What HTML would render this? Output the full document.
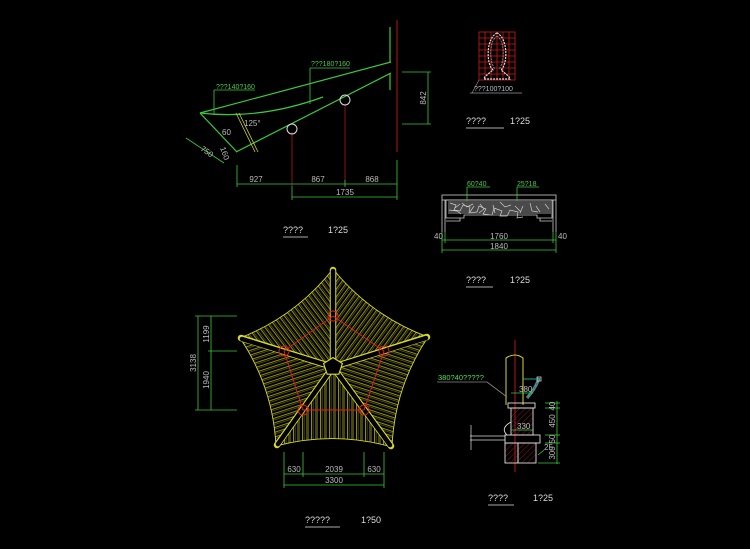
<!DOCTYPE html>
<html><head><meta charset="utf-8"><style>
html,body{margin:0;padding:0;background:#000;}
svg{display:block;}
text{font-family:"Liberation Sans",sans-serif;}
</style></head><body>
<svg width="750" height="549" viewBox="0 0 750 549" xmlns="http://www.w3.org/2000/svg">
<defs>
<pattern id="hp" width="4.5" height="10" patternUnits="userSpaceOnUse"><line x1="1" y1="0" x2="1" y2="10" stroke="#c8c828" stroke-width="0.7"/><line x1="2.6" y1="0" x2="2.6" y2="10" stroke="#8a8a18" stroke-width="0.5"/></pattern>
<pattern id="p1" href="#hp" patternTransform="rotate(-37)"/>
<pattern id="p2" href="#hp" patternTransform="rotate(36)"/>
<pattern id="p3" href="#hp" patternTransform="rotate(108)"/>
<pattern id="p4" href="#hp" patternTransform="rotate(0)"/>
<pattern id="p5" href="#hp" patternTransform="rotate(72)"/>
<pattern id="hatch" width="4" height="4" patternUnits="userSpaceOnUse" patternTransform="rotate(45)"><line x1="0" y1="0" x2="0" y2="4" stroke="#a02020" stroke-width="0.8"/></pattern>
</defs>
<rect width="750" height="549" fill="#000"/>

<!-- ===== Elevation top-left ===== -->
<g fill="none" stroke="#3cc83c" stroke-width="1.2">
<line x1="200" y1="113" x2="391" y2="62"/>
<line x1="236" y1="152" x2="391" y2="73"/>
<line x1="390" y1="27" x2="390" y2="62"/>
<line x1="390" y1="73" x2="390" y2="90"/>
<path d="M200 113 Q260 120 323 97"/>
<line x1="200" y1="113" x2="237" y2="152"/>
</g>
<g stroke="#c8c830" stroke-width="0.8"><line x1="236" y1="113" x2="255" y2="152"/><line x1="239" y1="113" x2="258" y2="152"/></g>
<line x1="397" y1="20" x2="397" y2="152" stroke="#b01818" stroke-width="1"/>
<line x1="292" y1="132" x2="292" y2="186" stroke="#b01818" stroke-width="0.8"/>
<line x1="345" y1="104" x2="345" y2="186" stroke="#b01818" stroke-width="0.8"/>
<circle cx="292" cy="129" r="5" fill="none" stroke="#ddd" stroke-width="1"/>
<circle cx="345" cy="100" r="5" fill="none" stroke="#ddd" stroke-width="1"/>
<g stroke="#3cc83c" stroke-width="0.8" fill="none">
<line x1="237" y1="184" x2="397" y2="184"/><line x1="292" y1="197" x2="397" y2="197"/>
<line x1="237" y1="165" x2="237" y2="187"/><line x1="292" y1="186" x2="292" y2="200"/><line x1="345" y1="180" x2="345" y2="187"/><line x1="397" y1="160" x2="397" y2="200"/>
<line x1="428" y1="72" x2="428" y2="124"/><line x1="402" y1="72" x2="431" y2="72"/><line x1="402" y1="124" x2="431" y2="124"/>
<line x1="186" y1="138" x2="224" y2="163"/><line x1="214" y1="90" x2="214" y2="115"/><line x1="214" y1="90" x2="255" y2="90"/>
<line x1="310" y1="68" x2="310" y2="104"/><line x1="310" y1="68" x2="350" y2="68"/>
</g>
<g font-size="8" fill="#bbb">
<text x="256" y="182" text-anchor="middle">927</text><text x="318" y="182" text-anchor="middle">867</text><text x="372" y="182" text-anchor="middle">868</text>
<text x="345" y="195" text-anchor="middle">1735</text>
<text transform="translate(426,98) rotate(-90)" text-anchor="middle">842</text>
<text transform="translate(200,150) rotate(35)">750</text>
<text transform="translate(220,148) rotate(70)">160</text>
<text x="222" y="135">60</text><text x="244" y="126">125°</text>
</g>
<g font-size="7" fill="#4cc84c"><text x="216" y="89">???140?160</text><text x="311" y="66">???180?160</text></g>
<g font-size="9" fill="#ddd"><text x="283" y="233">????</text><text x="328" y="233">1?25</text><line x1="283" y1="237" x2="308" y2="237" stroke="#aaa"/></g>

<!-- ===== Ball ornament ===== -->
<g stroke="#d01818" stroke-width="0.8">
<rect x="479" y="32" width="36" height="48" fill="none"/>
<line x1="485" y1="32" x2="485" y2="80"/><line x1="491" y1="32" x2="491" y2="80"/><line x1="497" y1="32" x2="497" y2="80"/><line x1="503" y1="32" x2="503" y2="80"/><line x1="509" y1="32" x2="509" y2="80"/>
<line x1="479" y1="38" x2="515" y2="38"/><line x1="479" y1="44" x2="515" y2="44"/><line x1="479" y1="50" x2="515" y2="50"/><line x1="479" y1="56" x2="515" y2="56"/><line x1="479" y1="62" x2="515" y2="62"/><line x1="479" y1="68" x2="515" y2="68"/><line x1="479" y1="74" x2="515" y2="74"/>
</g>
<path d="M497 33 C486 38 486 64 493 70 C488 74 484 77 484 79 L510 79 C510 77 506 74 501 70 C508 64 508 38 497 33Z" fill="none" stroke="#ddd" stroke-width="1.2" stroke-dasharray="2 1"/>
<path d="M497 36 C489 41 489 62 495 69 M497 36 C505 41 505 62 499 69" fill="none" stroke="#aaa" stroke-width="0.7" stroke-dasharray="2 1"/>
<line x1="479" y1="80" x2="472" y2="93" stroke="#888" stroke-width="0.7"/>
<line x1="470" y1="93" x2="522" y2="93" stroke="#999" stroke-width="0.7"/>
<text x="474" y="91" font-size="7" fill="#bbb">???100?100</text>
<g font-size="9" fill="#ddd"><text x="466" y="124">????</text><text x="510" y="124">1?25</text><line x1="466" y1="128" x2="504" y2="128" stroke="#aaa"/></g>

<!-- ===== Bench ===== -->
<g stroke="#ccc" stroke-width="0.8" fill="none">
<rect x="442" y="195" width="114" height="5"/>
<line x1="442" y1="200" x2="442" y2="232"/><line x1="445" y1="200" x2="445" y2="232"/>
<line x1="556" y1="200" x2="556" y2="232"/><line x1="553" y1="200" x2="553" y2="232"/>
<path d="M446 200 H552 V218 H537 V215 H464 V218 H446Z"/>
<path d="M446 221 H460 V218 M552 221 H540 V218"/>
</g>
<rect x="448" y="201" width="103" height="13" fill="#4a4a4a"/>
<path d="M450 203 l6 2 l-2 5 l6 1 l3 -6 l7 2 l-1 6 l8 -1 l2 -6 l7 3 l-3 5 l9 1 l2 -7 l8 3 l-2 5 l7 0 l3 -6 l8 2 l-1 6 l6 -1 M455 208 l5 -4 M470 212 l4 -6 M495 213 l-2 -8 M520 213 l3 -7 M540 212 l-4 -6 M449 210 l8 1 l4 3 M462 203 l5 4 l6 -3 M480 204 l4 5 l-5 4 M500 202 l5 5 l6 -2 M515 206 l6 6 M530 203 l2 8 l6 1 M545 204 l4 5" stroke="#ccc" stroke-width="0.7" fill="none"/>
<g stroke="#3cc83c" stroke-width="0.8"><line x1="467" y1="187" x2="467" y2="201"/><line x1="467" y1="187" x2="490" y2="187"/><line x1="517" y1="187" x2="517" y2="201"/><line x1="517" y1="187" x2="539" y2="187"/>
<line x1="442" y1="240" x2="556" y2="240"/><line x1="442" y1="250" x2="556" y2="250"/><line x1="442" y1="232" x2="442" y2="253"/><line x1="445" y1="232" x2="445" y2="243"/><line x1="556" y1="232" x2="556" y2="253"/><line x1="553" y1="232" x2="553" y2="243"/></g>
<g font-size="7" fill="#4cc84c"><text x="467" y="186">60?40</text><text x="517" y="186">25?18</text></g>
<g font-size="8" fill="#bbb"><text x="434" y="239">40</text><text x="558" y="239">40</text><text x="499" y="239" text-anchor="middle">1760</text><text x="499" y="249" text-anchor="middle">1840</text></g>
<g font-size="9" fill="#ddd"><text x="466" y="283">????</text><text x="510" y="283">1?25</text><line x1="466" y1="287" x2="493" y2="287" stroke="#aaa"/></g>

<!-- ===== Plan (pentagon roof) ===== -->
<g stroke="#d8d830" stroke-width="0.9">
<path d="M333 367 L333 269 Q295.8 316.2 240 338Z" fill="url(#p1)"/>
<path d="M333 367 L428 337 Q371 315.8 333 269Z" fill="url(#p2)"/>
<path d="M333 367 L392 447 Q394.6 387 428 337Z" fill="url(#p3)"/>
<path d="M333 367 L276 446 Q333.8 430.6 392 447Z" fill="url(#p4)"/>
<path d="M333 367 L240 338 Q273 387 276 446Z" fill="url(#p5)"/>
</g>
<g stroke="#d8d830" stroke-width="6.5" stroke-linecap="round"><line x1="333" y1="362" x2="333" y2="270"/><line x1="333" y1="367" x2="241" y2="338"/><line x1="333" y1="367" x2="427" y2="337"/><line x1="333" y1="367" x2="277" y2="445"/><line x1="333" y1="367" x2="391" y2="446"/></g>
<g stroke="#000" stroke-width="4.5" stroke-linecap="round"><line x1="333" y1="362" x2="333" y2="271"/><line x1="333" y1="367" x2="242" y2="339"/><line x1="333" y1="367" x2="426" y2="338"/><line x1="333" y1="367" x2="278" y2="444"/><line x1="333" y1="367" x2="390" y2="445"/></g>
<polygon points="333,359 341,364 338,373 328,373 325,364" fill="#000" stroke="#d8d830" stroke-width="3.5"/>
<polygon points="333,359 341,364 338,373 328,373 325,364" fill="#000" stroke="#000" stroke-width="1.2"/>
<polygon points="333,316 384,351 364,410 303,410 284,351" fill="none" stroke="#e02020" stroke-width="0.9"/>
<g fill="none" stroke="#e02020" stroke-width="0.9"><circle cx="333" cy="316" r="5"/><circle cx="384" cy="351" r="5"/><circle cx="364" cy="410" r="5"/><circle cx="303" cy="410" r="5"/><circle cx="284" cy="351" r="5"/></g>
<g stroke="#3cc83c" stroke-width="0.8">
<line x1="198" y1="316" x2="198" y2="410"/><line x1="211" y1="316" x2="211" y2="410"/>
<line x1="195" y1="316" x2="237" y2="316"/><line x1="195" y1="410" x2="237" y2="410"/><line x1="208" y1="351" x2="237" y2="351"/>
<line x1="284" y1="474" x2="384" y2="474"/><line x1="284" y1="485" x2="384" y2="485"/>
<line x1="284" y1="452" x2="284" y2="488"/><line x1="303" y1="452" x2="303" y2="477"/><line x1="364" y1="452" x2="364" y2="477"/><line x1="384" y1="452" x2="384" y2="488"/>
</g>
<g font-size="8" fill="#bbb">
<text transform="translate(196,363) rotate(-90)" text-anchor="middle">3138</text>
<text transform="translate(209,334) rotate(-90)" text-anchor="middle">1199</text>
<text transform="translate(209,380) rotate(-90)" text-anchor="middle">1940</text>
<text x="294" y="472" text-anchor="middle">630</text><text x="334" y="472" text-anchor="middle">2039</text><text x="374" y="472" text-anchor="middle">630</text>
<text x="334" y="483" text-anchor="middle">3300</text>
</g>
<g font-size="9" fill="#ddd"><text x="305" y="523">?????</text><text x="361" y="523">1?50</text><line x1="305" y1="527" x2="340" y2="527" stroke="#aaa"/></g>

<!-- ===== Column detail ===== -->
<line x1="515" y1="340" x2="515" y2="472" stroke="#b01818" stroke-width="1"/>
<path d="M506 405 V358 Q515 352 523 358 V405" fill="none" stroke="#d8d830" stroke-width="1"/>
<rect x="511" y="408" width="22" height="27" fill="url(#hatch)" stroke="#ddd" stroke-width="0.9"/>
<rect x="508" y="403" width="27" height="5" fill="none" stroke="#ddd" stroke-width="0.9"/>
<rect x="505" y="435" width="35" height="8" fill="none" stroke="#ddd" stroke-width="0.9"/>
<rect x="505" y="443" width="13" height="20" fill="url(#hatch)" stroke="#ddd" stroke-width="0.9"/>
<rect x="518" y="443" width="18" height="20" fill="url(#hatch)" stroke="#ddd" stroke-width="0.9"/>
<path d="M511 422 Q500 428 507 435" fill="none" stroke="#ddd" stroke-width="0.9"/>
<g stroke="#ddd" stroke-width="0.7"><line x1="470" y1="436" x2="505" y2="436"/><line x1="470" y1="440" x2="505" y2="440"/><line x1="471" y1="425" x2="471" y2="450"/></g>
<path d="M527 398 Q536 388 539 378" fill="none" stroke="#2aa0a0" stroke-width="3"/>
<path d="M527 398 Q536 388 539 378" fill="none" stroke="#e02020" stroke-width="1" stroke-dasharray="2 2"/>
<rect x="537" y="377" width="4" height="4" fill="none" stroke="#ccc" stroke-width="0.8"/>
<line x1="523" y1="379" x2="537" y2="379" stroke="#2aa0a0" stroke-width="1"/>
<g stroke="#3cc83c" stroke-width="0.8"><line x1="557" y1="401" x2="557" y2="464"/><line x1="545" y1="403" x2="560" y2="403"/><line x1="545" y1="408" x2="560" y2="408"/><line x1="545" y1="435" x2="560" y2="435"/><line x1="545" y1="443" x2="560" y2="443"/><line x1="538" y1="463" x2="560" y2="463"/>
<line x1="437" y1="382" x2="487" y2="382" stroke="#888"/><line x1="487" y1="382" x2="507" y2="397" stroke="#888"/>
<line x1="511" y1="393" x2="533" y2="393"/><line x1="511" y1="430" x2="533" y2="430"/><line x1="538" y1="455" x2="544" y2="450"/></g>
<text x="438" y="380" font-size="7.5" fill="#4ce04c">380?40?????</text>
<g font-size="8" fill="#bbb"><text x="519" y="392">380</text><text x="517" y="429">330</text><text x="544" y="450">25</text>
<text transform="translate(555,406) rotate(-90)" text-anchor="middle">40</text>
<text transform="translate(555,421) rotate(-90)" text-anchor="middle">450</text>
<text transform="translate(555,439) rotate(-90)" text-anchor="middle">50</text>
<text transform="translate(555,453) rotate(-90)" text-anchor="middle">300</text></g>
<g font-size="9" fill="#ddd"><text x="488" y="501">????</text><text x="533" y="501">1?25</text><line x1="488" y1="505" x2="514" y2="505" stroke="#aaa"/></g>
</svg>
</body></html>
